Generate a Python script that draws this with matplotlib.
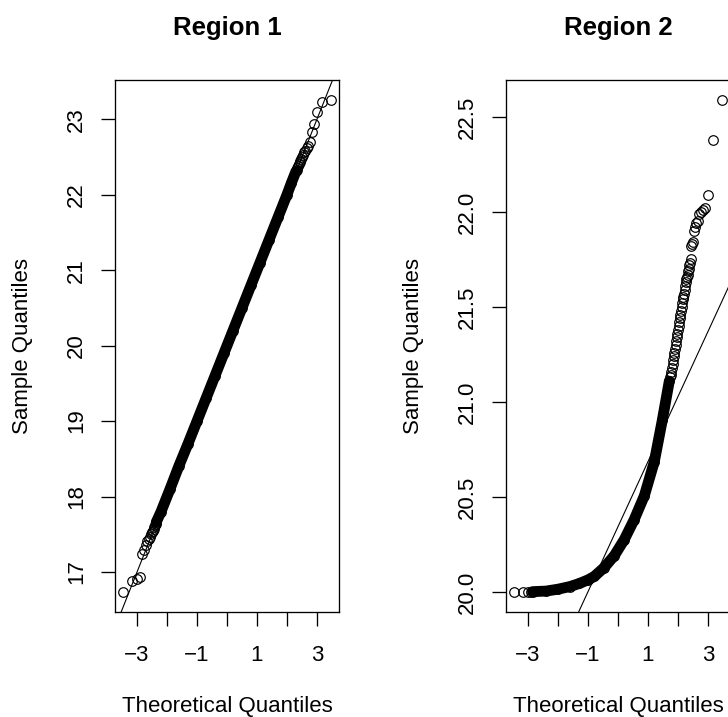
import matplotlib
matplotlib.use("Agg")
import matplotlib.pyplot as plt

plt.rcParams['font.family'] = ['Liberation Sans', 'DejaVu Sans']
plt.rcParams['axes.unicode_minus'] = True

titles = ["Region 1", "Region 2"]
x_label = "Theoretical Quantiles"
y_label = "Sample Quantiles"

x_ticks = [-3, -2, -1, 0, 1, 2, 3]
x_ticklabels = ["\u22123", "", "\u22121", "", "1", "", "3"]

# ---- Region 1 ----
r1_dense_theo = [-2.36, -2.2, -1.9, -1.6, -1.3, -1.0, -0.7, -0.4, -0.1,
                 0.2, 0.5, 0.8, 1.1, 1.4, 1.7, 2.0, 2.15, 2.30]
r1_dense_samp = [17.66, 17.80, 18.10, 18.41, 18.70, 19.00, 19.30, 19.60, 19.90,
                 20.20, 20.50, 20.80, 21.10, 21.40, 21.70, 22.00, 22.16, 22.31]
r1_tail_theo = [-3.47, -3.16, -3.01, -2.90, -2.82, -2.76, -2.70, -2.66, -2.61,
                -2.576, -2.54, -2.51, -2.48, -2.45, -2.43, -2.40, -2.38,
                2.32, 2.35, 2.38, 2.41, 2.43, 2.45, 2.48, 2.51, 2.54, 2.576,
                2.61, 2.66, 2.70, 2.76, 2.82, 2.90, 3.01, 3.16, 3.47]
r1_tail_samp = [16.73, 16.88, 16.91, 16.93, 17.24, 17.29, 17.36, 17.41, 17.44,
                17.47, 17.50, 17.53, 17.55, 17.57, 17.60, 17.62, 17.64,
                22.33, 22.35, 22.38, 22.41, 22.43, 22.45, 22.47, 22.50, 22.53, 22.56,
                22.58, 22.62, 22.64, 22.70, 22.83, 22.94, 23.10, 23.23, 23.26]
r1_line = (20.0, 1.0)          # intercept, slope
r1_yticks = [17, 18, 19, 20, 21, 22, 23]
r1_yticklabels = ["17", "18", "19", "20", "21", "22", "23"]

# ---- Region 2 ----
r2_dense_theo = [-2.85, -2.4, -2.0, -1.6, -1.29, -1.0, -0.79, -0.46, -0.12,
                 0.21, 0.54, 0.88, 1.21, 1.48, 1.71]
r2_dense_samp = [20.003, 20.006, 20.016, 20.03, 20.046, 20.065, 20.083, 20.13, 20.193,
                 20.277, 20.382, 20.508, 20.686, 20.907, 21.11]
r2_tail_theo = [-3.47, -3.16, -3.01, -2.90,
                1.74, 1.76, 1.78, 1.80, 1.82, 1.84, 1.86, 1.88, 1.90, 1.92, 1.94,
                1.96, 1.98, 2.00, 2.02, 2.04, 2.06, 2.08, 2.10, 2.12, 2.14, 2.16,
                2.18, 2.20, 2.22, 2.24, 2.26, 2.28, 2.30, 2.32, 2.34, 2.36, 2.38,
                2.40, 2.43, 2.45, 2.48, 2.51, 2.54, 2.576, 2.61, 2.66, 2.70, 2.76,
                2.82, 2.90, 3.01, 3.16, 3.47]
r2_tail_samp = [20.0, 20.0, 20.001, 20.001,
                21.13, 21.14, 21.16, 21.18, 21.20, 21.22, 21.24, 21.26, 21.28, 21.30, 21.32,
                21.34, 21.36, 21.38, 21.40, 21.42, 21.44, 21.46, 21.48, 21.50, 21.52, 21.54,
                21.555, 21.57, 21.59, 21.61, 21.63, 21.645, 21.66, 21.67, 21.69, 21.70, 21.72,
                21.73, 21.75, 21.82, 21.83, 21.84, 21.90, 21.92, 21.94, 21.95, 21.99, 22.00,
                22.01, 22.02, 22.09, 22.38, 22.59]
r2_line = (20.345, 0.342)      # intercept, slope
r2_yticks = [20.0, 20.5, 21.0, 21.5, 22.0, 22.5]
r2_yticklabels = ["20.0", "20.5", "21.0", "21.5", "22.0", "22.5"]

W, H = 728, 717
fig = plt.figure(figsize=(W / 100, H / 100), dpi=100)
ax1 = fig.add_axes([115 / W, (H - 612) / H, 224 / W, 532 / H])
ax2 = fig.add_axes([506 / W, (H - 612) / H, 224 / W, 532 / H])

panels = [
    (ax1, r1_dense_theo, r1_dense_samp, r1_tail_theo, r1_tail_samp, r1_line,
     r1_yticks, r1_yticklabels, (16.47, 23.52)),
    (ax2, r2_dense_theo, r2_dense_samp, r2_tail_theo, r2_tail_samp, r2_line,
     r2_yticks, r2_yticklabels, (19.896, 22.694)),
]

MS, MEW = 6.9, 0.85

for i, (ax, dt, ds, tt, ts, line, yt, ytl, ylim) in enumerate(panels):
    ax.plot(dt, ds, '-', color='black', lw=7.8, solid_capstyle='round',
            solid_joinstyle='round', zorder=2)
    ax.plot(dt, ds, 'o', mfc='none', mec='black', ms=MS, mew=MEW, zorder=2)
    ax.plot(tt, ts, 'o', mfc='none', mec='black', ms=MS, mew=MEW, zorder=3)
    ax.axline((0, line[0]), slope=line[1], color='black', lw=0.8, zorder=4)

    ax.set_xlim(-3.735, 3.735)
    ax.set_ylim(*ylim)
    ax.set_xticks(x_ticks)
    ax.set_xticklabels(x_ticklabels)
    ax.set_yticks(yt)
    ax.set_yticklabels(ytl, rotation=90, va='center')
    ax.tick_params(axis='both', direction='out', length=10, width=0.95,
                   labelsize=16, color='black')
    ax.tick_params(axis='x', pad=14)
    ax.tick_params(axis='y', pad=10)
    for sp in ax.spines.values():
        sp.set_linewidth(0.95)
        sp.set_color('black')

    ax.text(0.5, 1.0846, titles[i], transform=ax.transAxes, ha='center',
            va='baseline', fontsize=18.5, fontweight='bold')
    ax.text(0.5, -0.188, x_label, transform=ax.transAxes, ha='center',
            va='baseline', fontsize=16)
    ax.text(-0.413, 0.5, y_label, transform=ax.transAxes, ha='center',
            va='center', rotation=90, fontsize=16)

fig.savefig("out.png", dpi=100)
